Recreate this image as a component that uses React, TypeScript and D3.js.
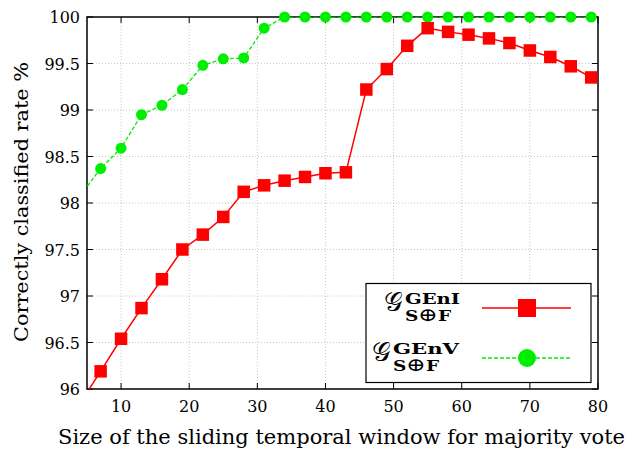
import React, { useEffect, useRef } from "react";
import * as d3 from "d3";

// window sizes (x=4 is outside the axis range, only the line enters the frame)
const windowSizes = [4, 7, 10, 13, 16, 19, 22, 25, 28, 31, 34, 37, 40, 43, 46, 49, 52, 55, 58, 61, 64, 67, 70, 73, 76, 79];
const genI = [95.85, 96.19, 96.54, 96.87, 97.18, 97.5, 97.66, 97.85, 98.12, 98.19, 98.24, 98.28, 98.32, 98.33, 99.22, 99.44, 99.69, 99.88, 99.84, 99.81, 99.77, 99.72, 99.64, 99.57, 99.47, 99.35];
const genV = [98.08, 98.37, 98.59, 98.95, 99.05, 99.22, 99.48, 99.55, 99.56, 99.88, 100, 100, 100, 100, 100, 100, 100, 100, 100, 100, 100, 100, 100, 100, 100, 100];
const xTicks = [10, 20, 30, 40, 50, 60, 70, 80];
const yTicks = [96, 96.5, 97, 97.5, 98, 98.5, 99, 99.5, 100];

const W = 627;
const H = 453;
const FONT = "DejaVu Serif";

export default function App() {
  const ref = useRef<SVGSVGElement>(null);

  useEffect(() => {
    const margin = { top: 17, right: 29, bottom: 64, left: 87 };
    const width = W - margin.left - margin.right;
    const height = H - margin.top - margin.bottom;

    const svg = d3.select(ref.current);
    svg.selectAll("*").remove();

    svg.append("defs").append("clipPath").attr("id", "plotclip")
      .append("rect").attr("width", width).attr("height", height);

    const g = svg.append("g").attr("transform", `translate(${margin.left}, ${margin.top})`);

    const x = d3.scaleLinear().domain([5, 80]).range([0, width]);
    const y = d3.scaleLinear().domain([96, 100]).range([height, 0]);

    // grid
    g.selectAll(".xgrid")
      .data(xTicks.slice(0, -1))
      .join("line")
      .attr("x1", d => x(d)).attr("x2", d => x(d))
      .attr("y1", 0).attr("y2", height)
      .attr("stroke", "#c8c8c8").attr("stroke-width", 1)
      .attr("stroke-dasharray", "1,2");
    g.selectAll(".ygrid")
      .data(yTicks.slice(1, -1))
      .join("line")
      .attr("x1", 0).attr("x2", width)
      .attr("y1", d => y(d)).attr("y2", d => y(d))
      .attr("stroke", "#c8c8c8").attr("stroke-width", 1)
      .attr("stroke-dasharray", "1,2");

    // ticks (mirrored, pointing inward)
    const tl = 6;
    xTicks.forEach(t => {
      g.append("line").attr("x1", x(t)).attr("x2", x(t)).attr("y1", height).attr("y2", height - tl).attr("stroke", "#000");
      g.append("line").attr("x1", x(t)).attr("x2", x(t)).attr("y1", 0).attr("y2", tl).attr("stroke", "#000");
    });
    yTicks.forEach(t => {
      g.append("line").attr("x1", 0).attr("x2", tl).attr("y1", y(t)).attr("y2", y(t)).attr("stroke", "#000");
      g.append("line").attr("x1", width).attr("x2", width - tl).attr("y1", y(t)).attr("y2", y(t)).attr("stroke", "#000");
    });

    g.selectAll(".xlab")
      .data(xTicks)
      .join("text")
      .attr("x", d => x(d)).attr("y", height + 23)
      .attr("text-anchor", "middle")
      .style("font-family", FONT).style("font-size", "16px")
      .text(d => d);
    g.selectAll(".ylab")
      .data(yTicks)
      .join("text")
      .attr("x", -7).attr("y", d => y(d) + 6)
      .attr("text-anchor", "end")
      .style("font-family", FONT).style("font-size", "16px")
      .text(d => d);

    // frame
    g.append("rect").attr("width", width).attr("height", height)
      .attr("fill", "none").attr("stroke", "#000").attr("stroke-width", 1.5);

    const pts = (vals: number[]) => windowSizes.map((w, i) => ({ w, v: vals[i] }));
    const line = d3.line<{ w: number; v: number }>().x(d => x(d.w)).y(d => y(d.v));

    // GEnV
    g.append("path")
      .datum(pts(genV))
      .attr("clip-path", "url(#plotclip)")
      .attr("fill", "none").attr("stroke", "#00ee00").attr("stroke-width", 1.3)
      .attr("stroke-dasharray", "4,2")
      .attr("d", line);
    g.selectAll(".gv")
      .data(pts(genV).filter(d => d.w >= 5))
      .join("circle")
      .attr("cx", d => x(d.w)).attr("cy", d => y(d.v)).attr("r", 5.5)
      .attr("fill", "#00ee00");

    // GEnI
    g.append("path")
      .datum(pts(genI))
      .attr("clip-path", "url(#plotclip)")
      .attr("fill", "none").attr("stroke", "#ff0000").attr("stroke-width", 1.5)
      .attr("d", line);
    const sq = 12.5;
    g.selectAll(".gi")
      .data(pts(genI).filter(d => d.w >= 5))
      .join("rect")
      .attr("x", d => x(d.w) - sq / 2).attr("y", d => y(d.v) - sq / 2)
      .attr("width", sq).attr("height", sq)
      .attr("fill", "#ff0000");

    // legend
    const lg = svg.append("g");
    lg.append("rect").attr("x", 366).attr("y", 283.5).attr("width", 225).attr("height", 99)
      .attr("fill", "#fff").attr("stroke", "#000").attr("stroke-width", 1.2);

    const entry = (cy: number, sup: string, gx: number, supLen: number, color: string, dashed: boolean, marker: string) => {
      const tx = gx + 21;
      lg.append("text").attr("x", gx).attr("y", cy + 3)
        .style("font-family", FONT).style("font-size", "26px")
        .text("\u{1D4A2}");
      lg.append("text").attr("x", tx).attr("y", cy - 4)
        .style("font-family", FONT).style("font-size", "15px").style("font-weight", "bold")
        .attr("textLength", supLen).attr("lengthAdjust", "spacingAndGlyphs")
        .text(sup);
      const sub = lg.append("text").attr("x", tx).attr("y", cy + 13)
        .style("font-family", FONT).style("font-size", "15px").style("font-weight", "bold")
        .attr("textLength", 46).attr("lengthAdjust", "spacingAndGlyphs");
      sub.append("tspan").text("S");
      sub.append("tspan").style("font-size", "19px").style("font-weight", "normal").text("\u2295");
      sub.append("tspan").text("F");
      lg.append("line").attr("x1", 482).attr("x2", 571).attr("y1", cy).attr("y2", cy)
        .attr("stroke", color).attr("stroke-width", dashed ? 1.3 : 1.5)
        .attr("stroke-dasharray", dashed ? "4,2" : null);
      if (marker === "square") {
        lg.append("rect").attr("x", 527 - 9).attr("y", cy - 9).attr("width", 18).attr("height", 18).attr("fill", color);
      } else {
        lg.append("circle").attr("cx", 527).attr("cy", cy).attr("r", 9).attr("fill", color);
      }
    };
    entry(308, "GEnI", 384, 55, "#ff0000", false, "square");
    entry(358, "GEnV", 372, 66, "#00ee00", true, "circle");

    // axis titles
    svg.append("text")
      .attr("x", 58).attr("y", 444)
      .style("font-family", FONT).style("font-size", "20px")
      .attr("textLength", 567).attr("lengthAdjust", "spacingAndGlyphs")
      .text("Size of the sliding temporal window for majority vote");
    svg.append("text")
      .attr("transform", "translate(28, 202) rotate(-90)")
      .attr("text-anchor", "middle")
      .style("font-family", FONT).style("font-size", "19px")
      .attr("textLength", 280).attr("lengthAdjust", "spacingAndGlyphs")
      .text("Correctly classified rate %");
  }, []);

  return (
    <svg ref={ref} width={W} height={H} style={{ position: "absolute", left: 0, top: 0, background: "#fff" }} />
  );
}
